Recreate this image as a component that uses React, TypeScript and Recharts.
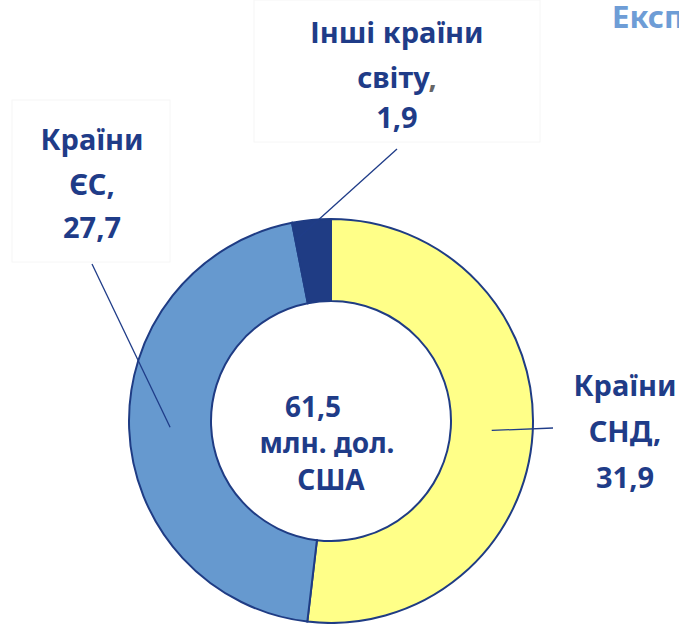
import React from 'react';
import { PieChart, Pie, Cell } from 'recharts';

const categories = ['Країни СНД', 'Країни ЄС', 'Інші країни світу'];
const values = [31.9, 27.7, 1.9];
const labelRows = [
  ['Країни', 'СНД,'],
  ['Країни', 'ЄС,'],
  ['Інші країни', 'світу,'],
];
const colors = ['#FFFF88', '#6699CF', '#1F3C84'];
const totalValue = 61.5;
const centerRows = ['млн. дол.', 'США'];
const titleText = 'Експорт товарів';

const data = categories.map((name, i) => ({ name, value: values[i] }));

const NAVY = '#1F3C88';
const FONT = '"Comic Sans MS", "Noto Sans", "DejaVu Sans", sans-serif';
const fmt = (v: number) => v.toFixed(1).replace('.', ',');

// where each label block sits and where its leader line starts
const labelLayout = [
  { x: 625, y: [396, 442, 488], tip: [553, 428] },
  { x: 92, y: [150, 195, 238], tip: [92, 264] },
  { x: 397, y: [43, 88, 128], tip: [397, 149] },
];

const RADIAN = Math.PI / 180;

const renderLabel = (props: any) => {
  const { cx, cy, midAngle, startAngle, innerRadius, outerRadius, index, value } = props;
  const lay = labelLayout[index];
  let r = (innerRadius + outerRadius) / 2;
  let ang = midAngle;
  if (index === 2) {
    // small slice: line goes to its right edge, near the outer rim
    r = outerRadius - 18;
    ang = startAngle;
  }
  const ex = cx + r * Math.cos(-ang * RADIAN);
  const ey = cy + r * Math.sin(-ang * RADIAN);
  const rows = labelRows[index];
  return (
    <g key={`lbl-${index}`}>
      <line x1={lay.tip[0]} y1={lay.tip[1]} x2={ex} y2={ey} stroke={NAVY} strokeWidth={1.3} />
      <text textAnchor="middle" fontFamily={FONT} fontWeight="bold" fontSize={29} fill={NAVY}>
        <tspan x={lay.x} y={lay.y[0]}>{rows[0]}</tspan>
        <tspan x={lay.x} y={lay.y[1]}>
          {rows[1].slice(0, -1)}
          <tspan fill={index === 2 ? '#666666' : NAVY}>,</tspan>
        </tspan>
        <tspan x={lay.x} y={lay.y[2]}>{fmt(value)}</tspan>
      </text>
    </g>
  );
};

export default function App() {
  return (
    <div style={{ position: 'fixed', left: 0, top: 0, width: 679, height: 624, background: '#fff' }}>
      <PieChart width={679} height={624} margin={{ top: 0, right: 0, bottom: 0, left: 0 }}>
        {/* faint label boxes */}
        <rect x={254} y={0} width={286} height={142} fill="#fff" stroke="#f6f6f6" />
        <rect x={12} y={100} width={158} height={162} fill="#fff" stroke="#f6f6f6" />
        <text x={612} y={28} fontFamily={FONT} fontWeight="bold" fontSize={31} fill="#6E9DD6">
          {titleText}
        </text>
        <Pie
          data={data}
          dataKey="value"
          nameKey="name"
          cx={331}
          cy={421}
          innerRadius={120}
          outerRadius={202}
          startAngle={90}
          endAngle={-270}
          stroke="#1F3C84"
          strokeWidth={2}
          label={renderLabel}
          labelLine={false}
          isAnimationActive={false}
        >
          {data.map((d, i) => (
            <Cell key={d.name} fill={colors[i]} />
          ))}
        </Pie>
        <text textAnchor="middle" fontFamily={FONT} fontWeight="bold" fontSize={28} fill={NAVY}>
          <tspan x={313} y={417}>{fmt(totalValue)}</tspan>
          <tspan x={327} y={453}>{centerRows[0]}</tspan>
          <tspan x={331} y={490}>{centerRows[1]}</tspan>
        </text>
      </PieChart>
    </div>
  );
}
